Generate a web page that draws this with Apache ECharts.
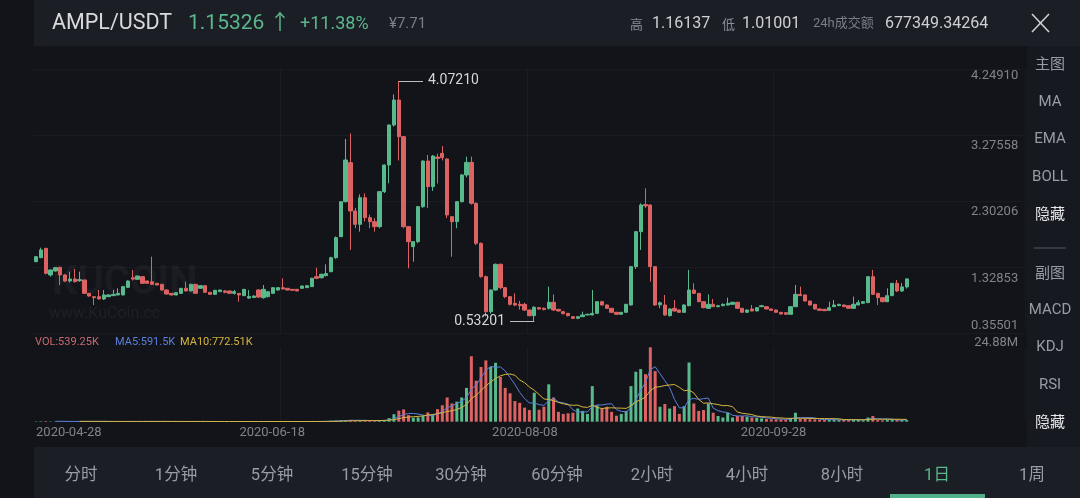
<!DOCTYPE html>
<html><head><meta charset="utf-8">
<script src="https://cdn.jsdelivr.net/npm/echarts@6/dist/echarts.min.js"></script>
<style>html,body{margin:0;padding:0;background:#121419;}#c{width:1080px;height:498px;}</style>
</head><body><div id="c"></div>
<script>
// ---------------- data ----------------
const startDate = '2020-04-28';
const categoryCount = 205;            // visible slots on the x axis (candles + empty right margin)
const dateLabelIdx = [0, 51, 102, 153];

const opens = [
1.407,1.466,1.604,1.211,1.270,1.324,1.211,1.122,1.152,1.127,
1.137,0.940,0.891,0.891,0.857,0.891,0.906,0.916,0.916,1.029,
1.170,1.147,1.186,1.122,1.112,1.088,1.073,0.989,0.940,0.916,
0.940,1.014,0.975,1.073,1.014,1.053,0.955,0.925,0.965,0.975,
0.975,0.940,0.940,0.906,0.870,0.880,0.990,0.876,0.891,0.940,
0.989,1.024,1.014,0.999,0.999,1.014,1.024,1.039,1.186,1.171,
1.201,1.260,1.466,1.776,2.292,2.868,2.155,1.958,2.351,2.056,
1.997,1.924,2.440,2.833,3.423,3.792,3.251,1.924,1.629,1.702,
2.219,2.892,2.514,2.950,3.005,2.922,2.071,1.997,2.292,2.686,
2.872,2.268,1.678,1.186,0.670,0.989,1.368,1.024,0.891,0.793,
0.778,0.778,0.694,0.611,0.729,0.720,0.719,0.808,0.704,0.670,
0.645,0.596,0.572,0.596,0.621,0.621,0.645,0.817,0.768,0.719,
0.660,0.631,0.660,0.768,1.334,1.850,2.250,2.243,1.334,0.770,
0.768,0.611,0.719,0.694,0.660,0.758,0.989,0.940,0.817,0.719,
0.778,0.743,0.758,0.768,0.778,0.808,0.719,0.660,0.709,0.680,
0.743,0.743,0.709,0.694,0.660,0.655,0.631,0.743,0.925,0.916,
0.827,0.778,0.709,0.704,0.689,0.743,0.758,0.768,0.758,0.719,
0.768,0.793,0.803,1.186,0.940,0.876,0.817,0.906,1.088,0.975,
1.035];
const closes = [
1.481,1.580,1.235,1.285,1.319,1.211,1.122,1.152,1.112,1.142,
0.940,0.901,0.876,0.857,0.916,0.916,0.925,0.940,1.039,1.122,
1.150,1.196,1.088,1.088,1.073,1.063,0.989,0.930,0.916,0.950,
1.014,0.975,1.073,0.940,1.053,0.955,0.925,0.985,0.989,0.955,
0.940,0.965,0.916,0.999,0.895,0.900,0.885,0.999,0.965,1.024,
1.024,1.004,0.989,0.985,0.975,1.048,1.053,1.162,1.162,1.221,
1.231,1.466,1.761,2.292,2.907,2.155,1.958,2.351,2.056,1.997,
1.924,2.440,2.833,3.423,3.792,3.251,1.924,1.702,1.702,2.219,
2.892,2.514,2.966,2.930,2.941,2.096,1.997,2.292,2.686,2.872,
2.268,1.678,1.186,0.670,0.989,1.368,1.024,0.891,0.778,0.768,
0.758,0.694,0.611,0.734,0.709,0.700,0.808,0.694,0.680,0.640,
0.611,0.572,0.596,0.621,0.631,0.645,0.817,0.768,0.719,0.660,
0.631,0.660,0.778,1.334,1.850,2.243,2.230,1.334,0.768,0.800,
0.621,0.709,0.680,0.660,0.768,0.989,0.940,0.817,0.729,0.778,
0.743,0.758,0.778,0.793,0.808,0.719,0.660,0.694,0.680,0.729,
0.758,0.709,0.689,0.660,0.635,0.631,0.743,0.925,0.906,0.827,
0.768,0.709,0.689,0.684,0.729,0.768,0.778,0.743,0.719,0.778,
0.803,0.817,1.186,0.925,0.876,0.817,0.906,1.088,0.975,1.035,
1.15326];
const lows = [
1.40,1.46,1.22,1.186,1.26,1.063,1.11,1.10,1.10,1.11,
0.93,0.89,0.768,0.85,0.842,0.885,0.90,0.91,0.91,1.02,
1.13,1.14,1.08,1.08,1.065,1.06,0.98,0.925,0.91,0.91,
0.935,0.97,0.97,0.935,1.01,0.95,0.92,0.92,0.96,0.94,
0.935,0.92,0.817,0.90,0.86,0.87,0.875,0.86,0.88,0.93,
0.98,1.00,0.985,0.98,0.97,1.01,1.02,1.035,1.15,1.16,
1.19,1.25,1.45,1.77,2.28,1.58,1.90,1.85,2.00,1.90,
1.85,1.90,2.42,2.563,3.40,2.90,1.90,1.309,1.407,1.68,
2.20,2.20,2.45,2.56,2.90,2.05,1.48,1.90,2.28,2.65,
2.25,1.65,1.17,0.60,0.64,0.98,1.00,0.87,0.76,0.75,
0.70,0.68,0.60,0.53201,0.70,0.69,0.70,0.68,0.67,0.63,
0.60,0.56,0.56,0.59,0.615,0.615,0.64,0.76,0.71,0.655,
0.625,0.625,0.655,0.76,1.30,1.58,2.20,1.112,0.76,0.72,
0.61,0.60,0.67,0.65,0.655,0.75,0.93,0.81,0.72,0.71,
0.74,0.735,0.75,0.76,0.77,0.71,0.655,0.655,0.675,0.675,
0.74,0.705,0.685,0.655,0.63,0.625,0.625,0.74,0.90,0.82,
0.76,0.70,0.685,0.68,0.685,0.74,0.755,0.74,0.715,0.715,
0.765,0.79,0.80,0.92,0.768,0.81,0.81,0.90,0.96,0.96,
1.01001];
const highs = [
1.49,1.614,1.61,1.29,1.325,1.33,1.22,1.26,1.299,1.26,
1.14,0.945,0.895,0.99,0.989,0.925,0.99,1.014,1.045,1.13,
1.285,1.20,1.19,1.13,1.481,1.09,1.08,0.995,0.945,0.955,
1.02,1.112,1.08,1.08,1.06,1.06,0.96,0.99,0.995,0.99,
0.98,0.99,0.945,1.004,0.99,0.91,1.0,1.063,0.97,1.03,
1.03,1.162,1.02,1.004,1.004,1.053,1.06,1.17,1.319,1.23,
1.368,1.48,1.78,2.30,3.217,3.30,2.20,2.40,2.415,2.10,
2.05,2.45,2.84,3.43,3.875,4.0721,3.26,1.93,1.71,2.23,
2.90,2.981,2.98,3.0,3.113,2.93,2.08,2.30,2.70,2.956,
2.956,2.28,1.69,1.20,1.00,1.38,1.38,1.03,0.90,0.94,
0.83,0.80,0.70,0.75,0.74,0.73,1.039,0.925,0.71,0.68,
0.65,0.60,0.60,0.67,0.64,0.989,0.82,0.83,0.775,0.725,
0.665,0.665,0.785,1.34,1.86,2.268,2.489,2.25,1.34,0.82,
0.916,0.72,0.842,0.70,0.78,1.285,1.088,0.945,0.825,0.925,
0.857,0.77,0.79,0.876,0.815,0.815,0.725,0.70,0.768,0.735,
0.77,0.75,0.715,0.70,0.665,0.66,0.75,1.063,1.039,0.92,
0.83,0.78,0.715,0.71,0.817,0.842,0.785,0.775,0.765,0.891,
0.842,0.825,1.19,1.285,0.945,0.88,1.014,1.09,1.137,1.09,
1.16137];
const volumesM = [
0.12,0.15,0.20,0.10,0.08,0.12,0.10,0.06,0.08,0.07,
0.15,0.10,0.12,0.08,0.07,0.05,0.05,0.06,0.09,0.10,
0.12,0.08,0.09,0.06,0.15,0.06,0.08,0.09,0.05,0.05,
0.07,0.08,0.09,0.10,0.06,0.08,0.05,0.06,0.04,0.04,
0.04,0.05,0.08,0.07,0.06,0.05,0.08,0.09,0.06,0.07,
0.05,0.08,0.04,0.04,0.04,0.05,0.05,0.12,0.15,0.10,
0.15,0.30,0.35,0.45,0.55,0.60,0.35,0.40,0.35,0.25,
0.30,0.40,0.60,1.2,2.5,3.7,4.1,2.2,1.35,1.45,
1.9,3.1,2.5,4.2,5.5,8.1,6.1,6.7,8.1,11.3,
21.9,13.7,18.3,20.5,18.3,19.7,15.0,11.3,9.5,6.9,
6.3,4.7,3.9,9.7,4.0,5.0,12.5,8.1,3.3,2.6,
2.8,3.0,4.4,3.6,2.6,11.9,5.5,4.4,5.0,3.3,
2.0,2.6,3.6,11.9,16.7,17.6,15.9,24.88,16.9,5.0,
5.9,4.4,5.2,2.6,5.2,19.8,6.1,3.6,3.9,6.1,
3.0,1.9,1.4,3.0,1.4,1.9,1.9,1.7,1.4,1.3,
1.1,0.9,0.8,0.8,0.8,0.7,1.3,3.0,0.9,0.9,
0.8,0.8,0.6,0.6,0.7,0.7,0.6,0.6,0.6,0.8,
0.7,0.5,1.4,1.9,0.55,0.45,0.6,0.65,0.6,0.58,
0.53925];
const yTickValues = [0.35501, 1.32853, 2.30206, 3.27558, 4.24910];
const yTickLabels = ['0.35501', '1.32853', '2.30206', '3.27558', '4.24910'];

// ---------------- derived ----------------
const UP = '#58b98c', DOWN = '#dd6363';
function makeDates(start, n) {
  const t0 = new Date(start + 'T00:00:00Z').getTime(), out = [];
  for (let i = 0; i < n; i++) out.push(new Date(t0 + i * 86400000).toISOString().slice(0, 10));
  return out;
}
const dates = makeDates(startDate, categoryCount);
const candles = opens.map((o, i) => [o, closes[i], lows[i], highs[i]]);
const volBars = volumesM.map((v, i) => ({ value: v, itemStyle: { color: closes[i] >= opens[i] ? UP : DOWN } }));
function movingAvg(arr, n) {
  return arr.map((_, i) => {
    if (i < n - 1) return '-';
    let s = 0; for (let k = i - n + 1; k <= i; k++) s += arr[k];
    return +(s / n).toFixed(4);
  });
}
const ma5 = movingAvg(volumesM, 5), ma10 = movingAvg(volumesM, 10);
const maxHigh = Math.max(...highs), maxIdx = highs.indexOf(maxHigh);
const minLow = Math.min(...lows), minIdx = lows.indexOf(minLow);
const volMax = Math.max(...volumesM);
const last = closes.length - 1;

const NUM = 'Roboto, "Noto Sans CJK SC", "DejaVu Sans", sans-serif';
const CJK = '"Noto Sans CJK SC", Roboto, sans-serif';
const AX = '#80838b';

function txt(text, x, y, size, fill, opt) {
  return Object.assign({ type: 'text', x: x, y: y, z: 100,
    style: { text: text, fill: fill, fontSize: size, fontFamily: NUM, align: 'left', verticalAlign: 'middle' } }, opt || {});
}
const graphics = [
  { type: 'rect', z: 0, shape: { x: 34, y: 0, width: 1046, height: 46 }, style: { fill: '#1b1e25' } },
  { type: 'rect', z: 0, shape: { x: 34, y: 447, width: 1046, height: 51 }, style: { fill: '#1b1e25' } },
  { type: 'rect', z: 0, shape: { x: 1027, y: 46, width: 53, height: 401 }, style: { fill: '#16191f' } },
  // watermark
  { type: 'text', x: 52, y: 284, z: 1, style: { text: 'KUCOIN', fill: 'rgba(255,255,255,0.035)', fontSize: 40, fontWeight: 'bold', fontFamily: NUM, verticalAlign: 'middle' } },
  txt('www.KuCoin.cc', 49, 314, 16, 'rgba(255,255,255,0.05)', { z: 1 }),
  // header
  txt('AMPL/USDT', 52, 24, 21.5, '#d9dadc'),
  txt(closes[last].toFixed(5) + ' ↑', 188, 24, 21, '#5bb78c'),
  txt('+11.38%', 300, 24, 18, '#5bb78c'),
  txt('¥7.71', 389, 24, 15, '#7b7e87'),
  { type: 'text', x: 630, y: 24, z: 100, style: { text: '高', fill: '#8a8d96', fontSize: 13, fontFamily: CJK, verticalAlign: 'middle' } },
  txt(highs[last].toFixed(5), 652, 24, 16, '#d0d1d4'),
  { type: 'text', x: 722, y: 24, z: 100, style: { text: '低', fill: '#8a8d96', fontSize: 13, fontFamily: CJK, verticalAlign: 'middle' } },
  txt(lows[last].toFixed(5), 742, 24, 16, '#d0d1d4'),
  txt('24h成交额', 813, 24, 13, '#7b7e87'),
  txt('677349.34264', 885, 24, 16, '#d0d1d4'),
  { type: 'line', z: 100, shape: { x1: 1032, y1: 14, x2: 1049, y2: 32 }, style: { stroke: '#d0d0d0', lineWidth: 1.6 } },
  { type: 'line', z: 100, shape: { x1: 1049, y1: 14, x2: 1032, y2: 32 }, style: { stroke: '#d0d0d0', lineWidth: 1.6 } },
  // volume legend
  txt('VOL:' + (volumesM[last] * 1000).toFixed(2) + 'K', 35, 342, 11, '#c96a72'),
  txt('MA5:591.5K', 115, 342, 11, '#5a80dc'),
  txt('MA10:772.51K', 180, 342, 11, '#d6b53f'),
  // right side panel
  { type: 'line', z: 100, shape: { x1: 1034, y1: 248, x2: 1066, y2: 248 }, style: { stroke: '#555a63', lineWidth: 1 } }
];
const sideItems = [['主图', 65.5, 0], ['MA', 102, 0], ['EMA', 139.5, 0], ['BOLL', 177, 0], ['隐藏', 215, 1],
                   ['副图', 274, 0], ['MACD', 310, 0], ['KDJ', 347.5, 0], ['RSI', 385, 0], ['隐藏', 423.5, 1]];
sideItems.forEach(s => graphics.push({ type: 'text', x: 1050, y: s[1], z: 100,
  style: { text: s[0], fill: s[2] ? '#e6e6e8' : '#9a9ca4', fontSize: 15, fontFamily: NUM, align: 'center', verticalAlign: 'middle' } }));
const tabs = [['分时', 81], ['1分钟', 176], ['5分钟', 272], ['15分钟', 367], ['30分钟', 461], ['60分钟', 557],
              ['2小时', 652], ['4小时', 747], ['8小时', 842], ['1日', 937], ['1周', 1032]];
tabs.forEach(t => graphics.push({ type: 'text', x: t[1], y: 476, z: 100,
  style: { text: t[0], fill: t[0] === '1日' ? '#5bb78c' : '#9a9ca4', fontSize: 16.5, fontFamily: NUM, align: 'center', verticalAlign: 'middle' } }));
graphics.push({ type: 'rect', z: 100, shape: { x: 890, y: 494, width: 95, height: 4 }, style: { fill: '#4fb08a' } });

const gridLine = { color: 'rgba(255,255,255,0.03)', width: 1 };
const isDateLabel = (i) => dateLabelIdx.indexOf(i) >= 0;

const option = {
  backgroundColor: '#121419',
  animation: false,
  graphic: { elements: graphics },
  grid: [
    { left: 33.6, top: 69, width: 991.6, height: 264 },
    { left: 33.6, top: 347.3, width: 991.6, height: 74.4 }
  ],
  xAxis: [
    { type: 'category', gridIndex: 0, data: dates, boundaryGap: true,
      axisLine: { show: false }, axisTick: { show: false }, axisLabel: { show: false },
      splitLine: { show: true, interval: (i) => i > 0 && isDateLabel(i), lineStyle: gridLine } },
    { type: 'category', gridIndex: 1, data: dates, boundaryGap: true,
      axisLine: { show: false }, axisTick: { show: false },
      splitLine: { show: true, interval: (i) => i > 0 && isDateLabel(i), lineStyle: gridLine },
      axisLabel: { show: true, interval: (i) => isDateLabel(i), color: AX, fontSize: 13, fontFamily: NUM, margin: 5,
        alignMinLabel: 'left',
        formatter: function (v, i) {
          const k = dateLabelIdx.indexOf(i);
          return k <= 0 ? v : '{s' + k + '|' + v + '}';
        },
        rich: {
          s1: { color: AX, fontSize: 13, fontFamily: NUM, padding: [0, 21, 0, 0] },
          s2: { color: AX, fontSize: 13, fontFamily: NUM, padding: [0, 9, 0, 0] },
          s3: { color: AX, fontSize: 13, fontFamily: NUM, padding: [0, 5, 0, 0] }
        } } }
  ],
  yAxis: [
    { type: 'value', gridIndex: 0, position: 'right', min: yTickValues[0], max: yTickValues[4], scale: true,
      axisLine: { show: false }, axisTick: { show: false, customValues: yTickValues },
      splitLine: { show: true, lineStyle: gridLine },
      axisLabel: { inside: true, margin: 7, customValues: yTickValues, color: AX, fontSize: 13, fontFamily: NUM,
        formatter: function (v) {
          let k = 0, d = 1e9;
          yTickValues.forEach((t, j) => { if (Math.abs(t - v) < d) { d = Math.abs(t - v); k = j; } });
          return '{p' + k + '|' + yTickLabels[k] + '}';
        },
        rich: {
          p0: { color: AX, fontSize: 13, fontFamily: NUM, padding: [0, 0, 14, 0] },
          p1: { color: AX, fontSize: 13, fontFamily: NUM, padding: [24, 0, 0, 0] },
          p2: { color: AX, fontSize: 13, fontFamily: NUM, padding: [22, 0, 0, 0] },
          p3: { color: AX, fontSize: 13, fontFamily: NUM, padding: [22, 0, 0, 0] },
          p4: { color: AX, fontSize: 13, fontFamily: NUM, padding: [14, 0, 0, 0] }
        } } },
    { type: 'value', gridIndex: 1, position: 'right', min: 0, max: volMax, interval: volMax,
      axisLine: { show: false }, axisTick: { show: false }, splitLine: { show: false },
      axisLabel: { inside: true, margin: 7, showMinLabel: false, color: AX, fontSize: 13, fontFamily: NUM,
        formatter: (v) => v > 0 ? '{t|' + v.toFixed(2) + 'M}' : '',
        rich: { t: { color: AX, fontSize: 13, fontFamily: NUM, padding: [0, 0, 10, 0] } } } }
  ],
  series: [
    { type: 'candlestick', xAxisIndex: 0, yAxisIndex: 0, data: candles, barWidth: 3.8,
      itemStyle: { color: UP, color0: DOWN, borderColor: UP, borderColor0: DOWN, borderWidth: 1 },
      markLine: {
        silent: true, symbol: ['none', 'none'], animation: false,
        lineStyle: { color: '#bdbdbd', width: 1, type: 'solid' },
        label: { color: '#d6d6d6', fontSize: 14, fontFamily: NUM, distance: 5 },
        emphasis: { disabled: true },
        data: [
          [ { coord: [dates[maxIdx], maxHigh], label: { show: true, position: 'end', formatter: maxHigh.toFixed(5) } },
            { coord: [dates[maxIdx + 5], maxHigh] } ],
          [ { coord: [dates[minIdx - 5], minLow], label: { show: true, position: 'start', formatter: minLow.toFixed(5) } },
            { coord: [dates[minIdx], minLow] } ]
        ]
      } },
    { type: 'bar', xAxisIndex: 1, yAxisIndex: 1, data: volBars, barWidth: 3 },
    { type: 'line', xAxisIndex: 1, yAxisIndex: 1, data: ma5, showSymbol: false, smooth: false,
      lineStyle: { color: '#5a80dc', width: 1 }, itemStyle: { color: '#5a80dc' } },
    { type: 'line', xAxisIndex: 1, yAxisIndex: 1, data: ma10, showSymbol: false, smooth: false,
      lineStyle: { color: '#d6b53f', width: 1 }, itemStyle: { color: '#d6b53f' } }
  ]
};
const chart = echarts.init(document.getElementById('c'), null, { renderer: 'canvas', width: 1080, height: 498 });
chart.setOption(option);
</script>
</body></html>
